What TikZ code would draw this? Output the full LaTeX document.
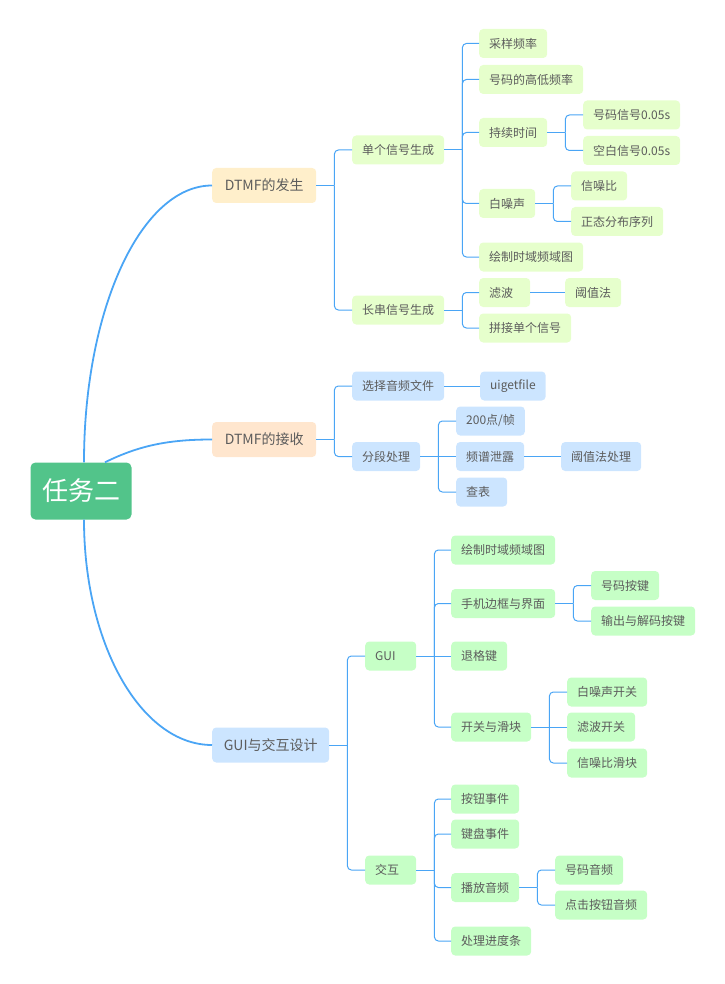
\documentclass[tikz,border=0pt]{standalone}
\usepackage{fontspec}
\newfontfamily\cjk{Noto Sans CJK SC}
\usepackage{tikz}

\definecolor{linkblue}{HTML}{4AA5F5}
\definecolor{rootgreen}{HTML}{52C48A}
\definecolor{genhead}{HTML}{FFEFCB}
\definecolor{recvhead}{HTML}{FFE6CE}
\definecolor{guihead}{HTML}{CCE5FF}
\definecolor{genleaf}{HTML}{E6FFCC}
\definecolor{recvleaf}{HTML}{CCE5FF}
\definecolor{guileaf}{HTML}{C6FFC6}
\definecolor{txt}{HTML}{5C5C5C}

\tikzset{
  topic/.style={anchor=west, rounded corners=4pt, inner xsep=10pt, inner ysep=0pt,
    minimum height=29pt, text=txt, font=\cjk\fontsize{12}{14}\selectfont},
  short/.style={text width=31pt, align=left},
  branch/.style={topic, minimum height=35pt, font=\cjk\fontsize{14}{16}\selectfont},
  link/.style={draw=linkblue, line width=1pt, rounded corners=4pt},
  trunk/.style={draw=linkblue, line width=1.8pt},
}

\begin{document}
\begin{tikzpicture}[x=1pt, y=-1pt]
   \useasboundingbox (0,0) rectangle (724,984);
   % root and main branches
   \node[fill=rootgreen, text=white, rounded corners=5pt, minimum width=101pt, minimum height=57pt,
     inner sep=0pt, font=\cjk\fontsize{26}{30}\selectfont] (task) at (81,491) {任务二};
   \node[branch, fill=genhead, minimum width=104pt] (gen) at (212,185.5) {DTMF的发生};
   \node[branch, fill=recvhead, minimum width=104pt] (recv) at (212,439.5) {DTMF的接收};
   \node[branch, fill=guihead, minimum width=117pt] (gui) at (212,745) {GUI与交互设计};

   \draw[trunk] ([xshift=3pt]task.north) .. controls (84,309.5) and (141,185.5) .. (gen.west);
   \draw[trunk] ([xshift=24pt]task.north) .. controls (140,445) and (170,439.5) .. (recv.west);
   \draw[trunk] ([xshift=3pt]task.south) .. controls (84,644) and (141,745) .. (gui.west);

   % DTMF generation
   \begin{scope}[every node/.style={topic, fill=genleaf}]
     \node (dan) at (352,150) {单个信号生成};
     \node (chang) at (352,310) {长串信号生成};
     \node (cy) at (479,43.5) {采样频率};
     \node (gd) at (479,79.5) {号码的高低频率};
     \node (cx) at (479,132.5) {持续时间};
     \node (bzs) at (479,203.5) {白噪声};
     \node (hz) at (479,257) {绘制时域频域图};
     \node[short] (lb) at (479,292.5) {滤波};
     \node (pj) at (479,328) {拼接单个信号};
     \node (hm) at (583,115) {号码信号0.05s};
     \node (kb) at (583,150.5) {空白信号0.05s};
     \node (xzb) at (571,186) {信噪比};
     \node (zt) at (571,221.5) {正态分布序列};
     \node (yz) at (565,292.5) {阈值法};
   \end{scope}

   % DTMF reception
   \begin{scope}[every node/.style={topic, fill=recvleaf}]
     \node (xz) at (352,386) {选择音频文件};
     \node (fd) at (352,456.5) {分段处理};
     \node (ui) at (480,386) {uigetfile};
     \node (pd) at (456,421) {200点/帧};
     \node (pp) at (456,456.5) {频谱泄露};
     \node[short] (cb) at (456,492) {查表};
     \node (yzcl) at (561,456.5) {阈值法处理};
   \end{scope}

   % GUI
   \begin{scope}[every node/.style={topic, fill=guileaf}]
     \node[short] (g) at (365,656) {GUI};
     \node[short] (jh) at (365,870) {交互};
     \node (hz2) at (451,550) {绘制时域频域图};
     \node (sj) at (451,603.5) {手机边框与界面};
     \node (tg) at (451,656) {退格键};
     \node (kg) at (451,727) {开关与滑块};
     \node (hmaj) at (591,585.5) {号码按键};
     \node (sc) at (591,621) {输出与解码按键};
     \node (bk) at (567,692) {白噪声开关};
     \node (lbk) at (567,727) {滤波开关};
     \node (xhb) at (567,763) {信噪比滑块};
     \node (an) at (451,799) {按钮事件};
     \node (jp) at (451,834) {键盘事件};
     \node (bf) at (451,887.5) {播放音频};
     \node (cl) at (451,941) {处理进度条};
     \node (hmyp) at (555,870) {号码音频};
     \node (dj) at (555,905) {点击按钮音频};
   \end{scope}

   % elbow connectors
   \foreach \a/\b in {gen/dan, gen/chang, dan/cy, dan/gd, dan/cx, dan/bzs, dan/hz,
       cx/hm, cx/kb, bzs/xzb, bzs/zt, chang/lb, chang/pj,
       recv/xz, recv/fd, fd/pd, fd/cb,
       gui/g, gui/jh, g/hz2, g/sj, g/kg, sj/hmaj, sj/sc, kg/bk, kg/xhb,
       jh/an, jh/jp, jh/bf, jh/cl, bf/hmyp, bf/dj} {
     \draw[link] (\a.east) -- ++(18,0);
     \draw[link] (\a.east) ++(18,0) |- (\b.west);
   }
   % straight connectors
   \foreach \a/\b in {lb/yz, xz/ui, fd/pp, pp/yzcl, g/tg, kg/lbk}
     \draw[link] (\a.east) -- (\b.west);
\end{tikzpicture}
\end{document}
